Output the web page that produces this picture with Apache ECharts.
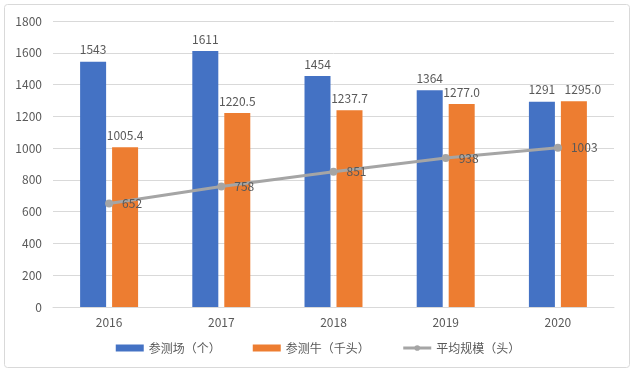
<!DOCTYPE html>
<html><head><meta charset="utf-8">
<script src="https://cdn.jsdelivr.net/npm/echarts@6/dist/echarts.min.js"></script>
<style>html,body{margin:0;padding:0;background:#fff}#c{width:636px;height:374px}</style>
</head><body><div id="c"></div>
<script>
const categories = ['2016','2017','2018','2019','2020'];
const farms = [1543,1611,1454,1364,1291];
const cattle = [1005.4,1220.5,1237.7,1277.0,1295.0];
const avgScale = [652,758,851,938,1003];
const seriesNames = ['参测场（个）','参测牛（千头）','平均规模（头）'];
const font = '"Noto Sans CJK SC", "Microsoft YaHei", sans-serif';
const txt = '#595959';
const chart = echarts.init(document.getElementById('c'));
chart.setOption({
  animation:false,
  textStyle:{fontFamily:font},
  graphic:[{type:'rect',shape:{x:4.5,y:4.5,width:625,height:363,r:3},style:{fill:'none',stroke:'#d9d9d9',lineWidth:1}}],
  grid:{left:53,right:22,top:21,bottom:67},
  legend:{bottom:15,left:'center',itemWidth:28,itemHeight:7,itemGap:32,
    textStyle:{color:txt,fontSize:12,fontFamily:font},
    data:[{name:seriesNames[0],icon:'rect'},{name:seriesNames[1],icon:'rect'},
      {name:seriesNames[2],itemStyle:{color:'#a5a5a5'},lineStyle:{width:3,color:'#a5a5a5'}}]},
  xAxis:{type:'category',data:categories,
    axisLine:{lineStyle:{color:'#d9d9d9'}},axisTick:{show:false},
    axisLabel:{color:txt,fontSize:12,margin:9,fontFamily:font}},
  yAxis:{type:'value',min:0,max:1800,interval:200,
    axisLine:{show:false},axisTick:{show:false},
    splitLine:{lineStyle:{color:'#d9d9d9'}},
    axisLabel:{color:txt,fontSize:12,margin:11,fontFamily:font,formatter:v=>String(v)}},
  series:[
    {name:seriesNames[0],type:'bar',data:farms,barWidth:26,barGap:'23%',
     itemStyle:{color:'#4472c4'},
     label:{show:true,position:'top',distance:6,color:txt,fontSize:12,fontFamily:font}},
    {name:seriesNames[1],type:'bar',
     data:cattle.map((v,i)=>i===cattle.length-1?{value:v,label:{offset:[9,0]}}:v),
     barWidth:26,barGap:'23%',
     itemStyle:{color:'#ed7d31'},
     label:{show:true,position:'top',distance:6,color:txt,fontSize:12,fontFamily:font,
       formatter:p=>Number(p.value).toFixed(1)}},
    {name:seriesNames[2],type:'line',data:avgScale,symbol:'circle',symbolSize:8,
     itemStyle:{color:'#a5a5a5'},lineStyle:{color:'#a5a5a5',width:3},
     label:{show:true,position:'right',distance:9,color:txt,fontSize:12,fontFamily:font},
     z:5}
  ]
});
</script></body></html>
